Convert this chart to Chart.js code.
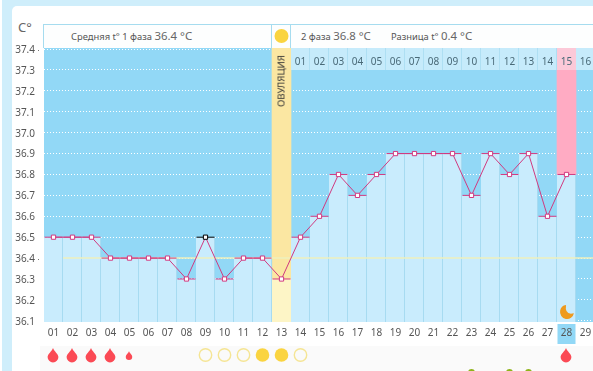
<!DOCTYPE html>
<html><head><meta charset="utf-8">
<script src="https://cdn.jsdelivr.net/npm/chart.js@4/dist/chart.umd.min.js"></script>
<style>
html,body{margin:0;padding:0;width:593px;height:371px;overflow:hidden;background:#fff}
body{position:relative;font-family:"Noto Sans",sans-serif;color:#555}
.abs{position:absolute}
#frame{left:2px;top:0;width:591px;height:371px;background:#cfeefb}
#panel{left:12px;top:6px;width:581px;height:365px;background:#fff;border-radius:5px 0 0 0}
#row{left:40px;top:346px;width:553px;height:25px;background:#fafafa}
#head{left:43px;top:24px;width:550px;height:24px;background:#fdfefe;border-top:1px solid #a6dcef;border-left:1px solid #a6dcef;box-sizing:border-box}
.sep{top:24px;width:1px;height:24px;background:#a6dcef}
.t{white-space:nowrap;line-height:14px;top:29px;font-size:9.4px}
.t b{font-weight:400;font-size:11.4px;color:#666}
#c{position:absolute;left:0;top:0}
#ov{left:281px;top:81px;width:0;height:0}
#ov span{position:absolute;transform:translate(-50%,-50%) rotate(-90deg);font-size:9.6px;color:#333;white-space:nowrap}
</style></head><body>
<div class="abs" id="frame"></div><div class="abs" id="panel"></div><div class="abs" id="row"></div>
<div class="abs" id="head"></div><div class="abs sep" style="left:271px"></div><div class="abs sep" style="left:290px"></div>
<div class="abs" style="left:18px;top:18px;font-size:13px;line-height:18px;color:#666">C°</div>
<div class="abs t" style="left:71px">Средняя t° 1 фаза <b>36.4 °С</b></div>
<div class="abs t" style="left:301px">2 фаза <b>36.8 °С</b></div>
<div class="abs t" style="left:391px">Разница t° <b>0.4 °С</b></div>
<canvas id="c" width="595" height="371"></canvas>
<div class="abs" id="ov"><span>ОВУЛЯЦИЯ</span></div>
<script>
const days = ['01','02','03','04','05','06','07','08','09','10','11','12','13','14','15','16','17','18','19','20','21','22','23','24','25','26','27','28','29'];
const phaseDays = ['','','','','','','','','','','','','','01','02','03','04','05','06','07','08','09','10','11','12','13','14','15','16'];
const temps = [36.5,36.5,36.5,36.4,36.4,36.4,36.4,36.3,36.5,36.3,36.4,36.4,36.3,36.5,36.6,36.8,36.7,36.8,36.9,36.9,36.9,36.9,36.7,36.9,36.8,36.9,36.6,36.8,null];
const yTicks = [36.1,36.2,36.3,36.4,36.5,36.6,36.7,36.8,36.9,37.0,37.1,37.2,37.3,37.4];
const dottedTicks = [37.4,36.4];
const coverTemp = 36.4;
const flow = [2,2,2,2,1,0,0,0,0,0,0,0,0,0,0,0,0,0,0,0,0,0,0,0,0,0,0,2,0];
const mucus = [0,0,0,0,0,0,0,0,1,1,1,2,2,1,0,0,0,0,0,0,0,0,0,0,0,0,0,0,0];
const greenDays = ['23','25','26'];
const moonDay = '28';
const ovulationDay = '13';
const todayDay = '28';
const blackDay = '09';
const yMin = 36.0943, yMax = 37.405, bandBase = 37.3;

const isOv = d => d === ovulationDay;
const barColors = days.map(d => isOv(d) ? '#fdf5c6' : '#c9ecfd');
const barEdges = days.map(d => isOv(d) ? '#fdf5c6' : '#97d2ea');
const ovBand = days.map((d,i) => isOv(d) ? [temps[i], yMax] : null);
const pinkBand = days.map((d,i) => d === todayDay ? [temps[i], yMax] : null);
const topBand = days.map((d,i) => i >= 13 ? [bandBase, yMax] : null);
const topColors = days.map(d => d === todayDay ? '#fcc9d8' : '#c6ebfb');
const topEdges = days.map(d => d === todayDay ? '#fcc9d8' : '#a3d9ef');

function drop(ctx,x,y,s){
  ctx.beginPath();
  ctx.moveTo(x,y-7*s);
  ctx.bezierCurveTo(x+1.2*s,y-3.6*s,x+5.4*s,y-1*s,x+5.4*s,y+2*s);
  ctx.arc(x,y+2*s,5.4*s,0,Math.PI);
  ctx.bezierCurveTo(x-5.4*s,y-1*s,x-1.2*s,y-3.6*s,x,y-7*s);
  ctx.closePath();ctx.fillStyle='#fb4a55';ctx.fill();
}
const decor = {
  id:'decor',
  beforeDraw(ch){
    const {ctx,chartArea:a,scales:{x}}=ch;
    ctx.save();
    ctx.fillStyle='#92d8f6';ctx.fillRect(a.left,a.top,a.right-a.left,a.bottom-a.top);
    const tx=x.getPixelForValue(days.indexOf(todayDay));
    ctx.fillRect(tx-9,324,18,20);
    ctx.restore();
  },
  afterDraw(ch){
    const {ctx,scales:{x,y}}=ch;
    const rowY=355;
    ctx.save();
    days.forEach((d,i)=>{
      const px=x.getPixelForValue(i);
      if(phaseDays[i]){
        ctx.font='10px "Noto Sans",sans-serif';ctx.fillStyle='#4a6a78';
        ctx.textAlign='center';ctx.textBaseline='middle';
        ctx.fillText(phaseDays[i],px,62);
      }
      if(flow[i]===2) drop(ctx,px-0.5,rowY,1);
      if(flow[i]===1) drop(ctx,px-0.5,rowY+0.5,0.6);
      if(mucus[i]){
        ctx.beginPath();ctx.arc(px,rowY,mucus[i]===2?6.8:6.2,0,7);
        if(mucus[i]===2){ctx.fillStyle='#fad440';ctx.fill();}
        else{ctx.strokeStyle='#f5e594';ctx.lineWidth=1.4;ctx.stroke();}
      }
      if(greenDays.includes(d)){
        ctx.beginPath();ctx.arc(px,372.5,3.5,0,7);ctx.fillStyle='#8fb31a';ctx.fill();
      }
    });
    const ox=x.getPixelForValue(days.indexOf(ovulationDay));
    ctx.beginPath();ctx.arc(ox,36,7,0,7);ctx.fillStyle='#fad440';ctx.fill();
    const mx=x.getPixelForValue(days.indexOf(moonDay))+0.5,my=312;
    const r=7,a1=10*Math.PI/180,a2=262*Math.PI/180;
    ctx.beginPath();ctx.arc(mx,my,r,a1,a2);
    ctx.quadraticCurveTo(mx-2.5,my+3.5,mx+r*Math.cos(a1),my+r*Math.sin(a1));
    ctx.closePath();ctx.fillStyle='#ee9a1e';ctx.fill();
    ctx.fillStyle='#777';
    dottedTicks.forEach(v=>ctx.fillRect(38,Math.round(y.getPixelForValue(v))+1,1,1));
    ctx.restore();
  }
};
const tickFont={family:'"Noto Sans",sans-serif',size:10};
const noPad = s => {s.paddingLeft=0;s.paddingRight=0;s.paddingTop=0;s.paddingBottom=0;};
new Chart(document.getElementById('c'),{
  type:'bar',
  data:{labels:days,datasets:[
    {type:'line',data:temps,order:1,borderColor:'#d13a80',borderWidth:1,tension:0,spanGaps:false,
     pointStyle:'rect',pointRadius:3,pointBorderWidth:1,pointBackgroundColor:'#fff',
     pointBorderColor:days.map(d=>d===blackDay?'#000':'#d13a80')},
    {type:'line',data:temps,order:2,showLine:false,pointStyle:'line',pointRadius:9,pointBorderWidth:1,
     pointBorderColor:days.map(d=>d===blackDay?'#000':'#d13a80')},
    {type:'scatter',xAxisID:'xLine',data:[{x:1.5,y:coverTemp},{x:29.5,y:coverTemp}],showLine:true,order:3,
     borderColor:'#eef1bd',borderWidth:1.5,pointRadius:0},
    {data:temps,order:4,grouped:false,backgroundColor:barColors,borderColor:barEdges,
     borderWidth:{top:0,right:1,bottom:0,left:0},barPercentage:1,categoryPercentage:1},
    {data:topBand,order:5,grouped:false,backgroundColor:topColors,borderColor:topEdges,
     borderWidth:{top:0,right:1,bottom:0,left:0},borderSkipped:false,barPercentage:1,categoryPercentage:1},
    {data:pinkBand,order:6,grouped:false,backgroundColor:'#ffabc3',barPercentage:1,categoryPercentage:1},
    {data:ovBand,order:6,grouped:false,backgroundColor:'#fbe7a2',barPercentage:1,categoryPercentage:1}
  ]},
  options:{
    responsive:false,animation:false,events:[],
    layout:{padding:{top:48,left:0,right:0,bottom:0},autoPadding:false},
    plugins:{legend:{display:false},tooltip:{enabled:false},title:{display:false}},
    scales:{
      x:{position:'bottom',offset:true,grid:{display:false,drawTicks:false},border:{display:false},
         ticks:{font:tickFont,color:'#555',padding:5,autoSkip:false,maxRotation:0},
         afterFit(s){s.height=49;noPad(s);}},
      xLine:{type:'linear',display:false,offset:false,min:0.5,max:29.5},
      y:{min:yMin,max:yMax,grid:{color:'#fff',drawTicks:false,tickLength:0},border:{display:false,dash:[1,2]},
         afterBuildTicks(s){s.ticks=yTicks.map(v=>({value:v}));},
         ticks:{font:{family:'"Noto Sans",sans-serif',size:10},color:'#555',padding:9,labelOffset:1,autoSkip:false,callback:v=>v.toFixed(1)},
         afterFit(s){s.width=44;noPad(s);}}
    }
  },
  plugins:[decor]
});
</script>
</body></html>
